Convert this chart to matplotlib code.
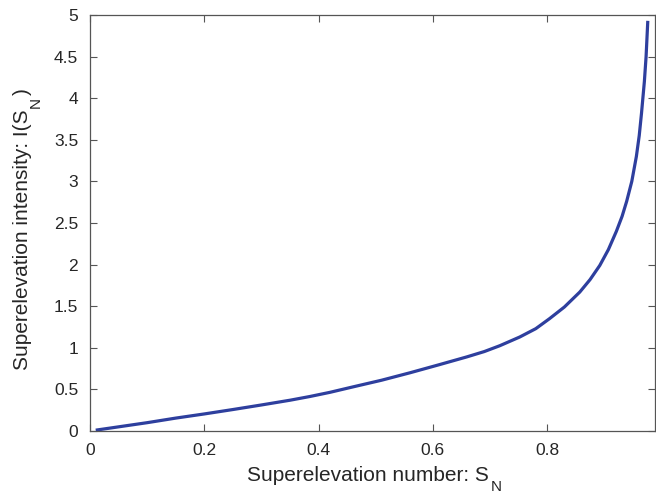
import matplotlib
matplotlib.use("Agg")
import matplotlib.pyplot as plt

plt.rcParams['font.family'] = ['Liberation Sans', 'DejaVu Sans']

# Data
sn = [0.01, 0.05, 0.1, 0.15, 0.2, 0.25, 0.3, 0.35, 0.385, 0.42, 0.46, 0.51, 0.56, 0.61,
      0.659, 0.69, 0.717, 0.752, 0.78, 0.804, 0.83, 0.857, 0.875, 0.892, 0.907, 0.921,
      0.931, 0.939, 0.948, 0.956, 0.961, 0.965, 0.970, 0.973, 0.976]
intensity = [0.01, 0.05, 0.10, 0.155, 0.205, 0.258, 0.313, 0.37, 0.415, 0.465, 0.53, 0.61, 0.70, 0.795,
             0.89, 0.955, 1.025, 1.13, 1.23, 1.35, 1.49, 1.67, 1.82, 1.99, 2.18, 2.40,
             2.58, 2.76, 3.00, 3.30, 3.55, 3.82, 4.20, 4.50, 4.93]

xticks = [0, 0.2, 0.4, 0.6, 0.8]
xticklabels = ['0', '0.2', '0.4', '0.6', '0.8']
yticks = [0, 0.5, 1, 1.5, 2, 2.5, 3, 3.5, 4, 4.5, 5]
yticklabels = ['0', '0.5', '1', '1.5', '2', '2.5', '3', '3.5', '4', '4.5', '5']

xlabel_main = 'Superelevation number: S'
xlabel_sub = 'N'
ylabel_main = 'Superelevation intensity: I(S'
ylabel_sub = 'N'
ylabel_end = ')'

W, H = 656, 494
fig = plt.figure(figsize=(W / 100, H / 100), dpi=100)
ax_l, ax_b, ax_w, ax_h = 90, 63, 565, 416
ax = fig.add_axes([ax_l / W, ax_b / H, ax_w / W, ax_h / H])
ax.plot(sn, intensity, color='#2E3F9E', linewidth=2.3, solid_capstyle='butt',
        solid_joinstyle='round')

ax.set_xlim(0, 0.9886)
ax.set_ylim(0, 5)
ax.set_xticks(xticks)
ax.set_xticklabels(xticklabels)
ax.set_yticks(yticks)
ax.set_yticklabels(yticklabels)

spine_col = '#555555'
txt_col = '#262626'
for s in ax.spines.values():
    s.set_color(spine_col)
    s.set_linewidth(0.9)
ax.tick_params(direction='in', length=5, width=0.8, color=spine_col,
               labelcolor=txt_col, labelsize=12.5, top=True, right=True, pad=8.5)

# Composite axis labels (MATLAB-style subscripts)
main_fs, sub_fs = 15, 11
fig.canvas.draw()
r = fig.canvas.get_renderer()

def width_px(s, fs):
    t = fig.text(0, 0, s, fontsize=fs)
    w = t.get_window_extent(renderer=r).width
    t.remove()
    return w

# x label
w1 = width_px(xlabel_main, main_fs)
w2 = width_px(xlabel_sub, sub_fs)
gap = 2
cx = ax_l + ax_w / 2 + 2
x0 = cx - (w1 + gap + w2) / 2
base_main = 13
base_sub = 3.5
fig.text(x0 / W, base_main / H, xlabel_main, fontsize=main_fs, color=txt_col,
         ha='left', va='baseline')
fig.text((x0 + w1 + gap) / W, base_sub / H, xlabel_sub, fontsize=sub_fs, color=txt_col,
         ha='left', va='baseline')

# y label (rotated 90 deg)
v1 = width_px(ylabel_main, main_fs)
v2 = width_px(ylabel_sub, sub_fs)
v3 = width_px(ylabel_end, main_fs)
cy = ax_b + ax_h / 2 - 6
y0 = cy - (v1 + gap + v2 + gap + v3) / 2
ybase_main = 28
ybase_sub = 40
fig.text(ybase_main / W, y0 / H, ylabel_main, fontsize=main_fs, color=txt_col,
         rotation=90, rotation_mode='anchor', ha='left', va='baseline')
fig.text(ybase_sub / W, (y0 + v1 + gap) / H, ylabel_sub, fontsize=sub_fs, color=txt_col,
         rotation=90, rotation_mode='anchor', ha='left', va='baseline')
fig.text(ybase_main / W, (y0 + v1 + gap + v2 + gap) / H, ylabel_end, fontsize=main_fs,
         color=txt_col, rotation=90, rotation_mode='anchor', ha='left', va='baseline')

fig.savefig('out.png', dpi=100)
